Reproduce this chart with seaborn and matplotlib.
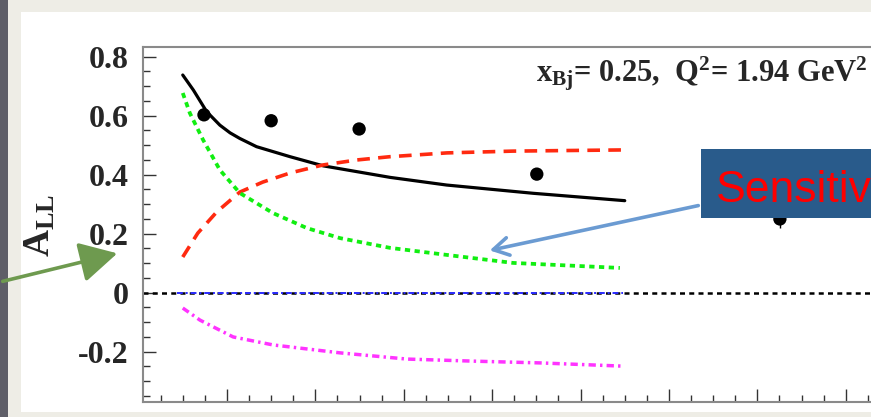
import matplotlib
matplotlib.use("Agg")
import matplotlib.pyplot as plt
import seaborn as sns
from matplotlib.patches import Rectangle, FancyArrowPatch
from matplotlib.ticker import MultipleLocator, FixedLocator, FixedFormatter

# ---- data ----
x_full = [0.100, 0.124, 0.154, 0.184, 0.207, 0.229, 0.267, 0.343, 0.418, 0.569, 0.697, 0.893, 1.100]
y_full = [0.738, 0.687, 0.614, 0.568, 0.542, 0.523, 0.495, 0.461, 0.430, 0.391, 0.365, 0.337, 0.312]

x_red = [0.100, 0.134, 0.177, 0.229, 0.281, 0.343, 0.417, 0.494, 0.568, 0.698, 0.847, 1.094]
y_red = [0.121, 0.202, 0.274, 0.341, 0.375, 0.406, 0.433, 0.450, 0.461, 0.474, 0.480, 0.484]

x_green = [0.100, 0.116, 0.146, 0.184, 0.229, 0.304, 0.381, 0.456, 0.569, 0.698, 0.847, 1.089]
y_green = [0.677, 0.609, 0.518, 0.416, 0.338, 0.270, 0.219, 0.185, 0.152, 0.128, 0.101, 0.084]

x_magenta = [0.100, 0.139, 0.214, 0.304, 0.456, 0.607, 0.757, 0.908, 1.096]
y_magenta = [-0.052, -0.093, -0.150, -0.177, -0.204, -0.225, -0.232, -0.238, -0.249]

x_blue = [0.087, 1.096]
y_blue = [0.0, 0.0]

x_data = [0.148, 0.300, 0.499, 0.901, 1.451]
y_data = [0.603, 0.583, 0.555, 0.402, 0.250]
y_err = [0.010, 0.010, 0.012, 0.015, 0.030]

y_ticks = [-0.2, 0.0, 0.2, 0.4, 0.6, 0.8]
y_ticklabels = ["-0.2", "0", "0.2", "0.4", "0.6", "0.8"]

kin_label = r"$\mathbf{x_{Bj}}$= 0.25,  $\mathbf{Q^{2}}$= 1.94 GeV$^{\mathbf{2}}$"
box_text = "Sensitivity"

# ---- style ----
sns.set_theme(style="ticks")
plt.rcParams["font.family"] = ["Liberation Serif", "DejaVu Serif"]
plt.rcParams["mathtext.fontset"] = "custom"
plt.rcParams["mathtext.rm"] = "Liberation Serif:bold"
plt.rcParams["mathtext.bf"] = "Liberation Serif:bold"
plt.rcParams["mathtext.it"] = "Liberation Serif:bold"

fig = plt.figure(figsize=(8.71, 4.17), dpi=100, facecolor="#eeede6")

# slide background pieces
fig.add_artist(Rectangle((0.0238, 0.012), 1.0, 0.959, transform=fig.transFigure,
                         facecolor="white", edgecolor="none", zorder=0))
fig.add_artist(Rectangle((0, 0), 0.0095, 1, transform=fig.transFigure,
                         facecolor="#5e5e67", edgecolor="none", zorder=0))

ax = fig.add_axes([0.1638, 0.0353, 1.0102, 0.852])
ax.set_facecolor("none")

# zero reference line
ax.axhline(0, color="black", linewidth=1.8, linestyle=(0, (2.0, 1.7)), zorder=2)

sns.lineplot(x=x_blue, y=y_blue, ax=ax, color="#2b2bff", linewidth=1.4,
             linestyle=(0, (3, 1.5, 1, 1.5)), sort=False, zorder=3)
sns.lineplot(x=x_full, y=y_full, ax=ax, color="black", linewidth=2.3, sort=False, zorder=4)
sns.lineplot(x=x_red, y=y_red, ax=ax, color="#ff2a10", linewidth=2.6,
             linestyle=(0, (3.5, 2.3)), sort=False, zorder=4)
sns.lineplot(x=x_green, y=y_green, ax=ax, color="#11ee11", linewidth=2.7,
             linestyle=(0, (1.4, 1.2)), sort=False, zorder=4)
sns.lineplot(x=x_magenta, y=y_magenta, ax=ax, color="#ff33ff", linewidth=2.5,
             linestyle=(0, (2.1, 1.2, 0.7, 1.2)), sort=False, zorder=4)

ax.errorbar(x_data, y_data, yerr=y_err, fmt="none", ecolor="black", elinewidth=1.0,
            capsize=0, zorder=5)
sns.scatterplot(x=x_data, y=y_data, ax=ax, color="black", s=92, edgecolor="none", zorder=6)

ax.set_xlim(0.0093, 2.0)
ax.set_ylim(-0.3715, 0.833)
ax.xaxis.set_major_locator(MultipleLocator(0.2))
ax.xaxis.set_minor_locator(MultipleLocator(0.05))
ax.yaxis.set_major_locator(FixedLocator(y_ticks))
ax.yaxis.set_major_formatter(FixedFormatter(y_ticklabels))
ax.yaxis.set_minor_locator(MultipleLocator(0.05))
ax.tick_params(axis="both", which="major", direction="in", length=9.4, width=1.0,
               color="#333333", pad=10)
ax.tick_params(axis="both", which="minor", direction="in", length=5, width=1.0,
               color="#333333")
ax.tick_params(axis="x", labelbottom=False)
ax.tick_params(axis="y", labelsize=23)
for lab in ax.get_yticklabels():
    lab.set_fontweight("bold")
for sp in ax.spines.values():
    sp.set_color("#8a8a8a")
    sp.set_linewidth(1.5)
ax.set_xlabel("")
ax.set_ylabel("")

fig.text(40 / 871, 1 - 225 / 417, r"$\mathbf{A_{LL}}$", rotation=90, ha="center",
         va="center", fontsize=27)
fig.text(536 / 871, 1 - 81.7 / 417, kin_label, ha="left", va="baseline",
         fontsize=22, fontweight="bold")

# slide overlay: text box and arrows
fig.add_artist(Rectangle((701 / 871, 1 - 217.7 / 417), 0.4, 68.7 / 417,
                         transform=fig.transFigure, facecolor="#295b8b",
                         edgecolor="none", zorder=10))
fig.text(716 / 871, 1 - 201.7 / 417, box_text, family=["Liberation Sans", "DejaVu Sans"],
         color="#ff0000", fontsize=32, ha="left", va="baseline", zorder=11)

fig.add_artist(FancyArrowPatch((701 / 871, 1 - 205 / 417), (487 / 871, 1 - 251 / 417),
                               transform=fig.transFigure, color="#6b9bd2", lw=2.6,
                               arrowstyle="->,head_length=0.55,head_width=0.32",
                               mutation_scale=20, zorder=9))
fig.add_artist(FancyArrowPatch((0.0, 1 - 282 / 417), (120 / 871, 1 - 252.7 / 417),
                               transform=fig.transFigure, color="#6e9a4f", lw=2.6,
                               arrowstyle="-|>,head_length=1.15,head_width=0.62",
                               mutation_scale=20, zorder=9))

fig.savefig("out.png", dpi=100, facecolor=fig.get_facecolor())
